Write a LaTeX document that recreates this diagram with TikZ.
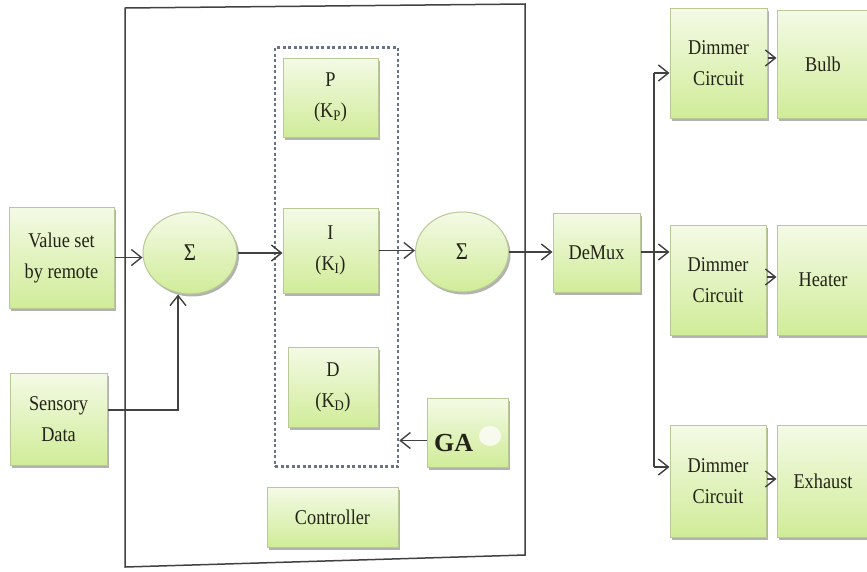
\documentclass[tikz,border=0pt]{standalone}
\usepackage{fontspec}
\setmainfont{Liberation Serif}[FakeStretch=0.87]
\newfontfamily\gafont{Liberation Serif}
\usetikzlibrary{arrows.meta,shadows,shapes.geometric}
\definecolor{boxtop}{RGB}{244,250,230}
\definecolor{boxbot}{RGB}{208,236,152}
\definecolor{boxline}{RGB}{185,200,150}
\definecolor{lnk}{RGB}{65,65,65}
\definecolor{txt}{RGB}{35,35,25}
\definecolor{dotc}{RGB}{105,115,135}
\begin{document}
\begin{tikzpicture}[x=1pt,y=-1pt,
  blk/.style={draw=boxline, line width=1pt, top color=boxtop, bottom color=boxbot,
    drop shadow={shadow xshift=2pt,shadow yshift=-2.5pt,fill=black,opacity=.3},
    align=center, font=\fontsize{21}{31}\selectfont, text=txt, inner sep=0pt},
  sumnode/.style={blk, ellipse, font=\fontsize{24}{28}\selectfont},
  arr/.style={draw=lnk, line width=1.4pt, -{Straight Barb[length=10pt,width=16pt,line width=1.4pt]}},
  ln/.style={draw=lnk, line width=1.4pt},
  dotbox/.style={draw=dotc, line width=2.5pt, dash pattern=on 3pt off 2.5pt, inner sep=0pt}]
\useasboundingbox (0,0) rectangle (867,571);
\fill[white] (0,0) rectangle (867,571);
% outer controller frame
\draw[draw=lnk, line width=1.5pt] (125,8) -- (525,4) -- (525,555) -- (125,567) -- cycle;
% PID dotted box
\node[dotbox, minimum width=123pt, minimum height=419pt] (pid) at (336.5,257) {};
% blocks
\node[blk, minimum width=105pt, minimum height=101pt] (val) at (61.5,257.5) {Value set\\by remote};
\node[blk, minimum width=97pt, minimum height=92pt] (sens) at (58.5,419) {Sensory\\Data};
\node[sumnode, minimum width=94pt, minimum height=82pt] (sum1) at (190,253) {Σ};
\node[blk, minimum width=95pt, minimum height=79pt] (P) at (330.5,97.5) {P\\(K\textsubscript{P})};
\node[blk, minimum width=95pt, minimum height=85pt] (I) at (330.5,250.5) {I\\(K\textsubscript{I})};
\node[blk, minimum width=90pt, minimum height=80pt] (D) at (333,387) {D\\(K\textsubscript{D})};
\node[sumnode, minimum width=93pt, minimum height=80pt] (sum2) at (462,252) {Σ};
\node[blk, minimum width=81pt, minimum height=69pt] (GA) at (467.5,432.5) {};
\fill[white, opacity=.75] (490,436) ellipse (11pt and 10pt);
\node[font=\gafont\bfseries\fontsize{26}{28}\selectfont, text=txt, anchor=west, inner sep=0pt] (galbl) at (434,443) {GA};
\node[blk, minimum width=131pt, minimum height=60pt] (ctrl) at (332.5,517) {Controller};
\node[blk, minimum width=87pt, minimum height=79pt] (demux) at (596.5,252.5) {DeMux};
\node[blk, minimum width=97pt, minimum height=110pt] (dim1) at (718.5,63) {Dimmer\\Circuit};
\node[blk, minimum width=92pt, minimum height=108pt] (bulb) at (823,64) {Bulb};
\node[blk, minimum width=96pt, minimum height=110pt] (dim2) at (718,280) {Dimmer\\Circuit};
\node[blk, minimum width=92pt, minimum height=110pt] (heater) at (823,280) {Heater};
\node[blk, minimum width=96pt, minimum height=112pt] (dim3) at (718,481) {Dimmer\\Circuit};
\node[blk, minimum width=92pt, minimum height=112pt] (exhaust) at (823,481) {Exhaust};
% connectors
\draw[arr] (val.east) -- (val.east -| sum1.west);
\draw[arr] ([yshift=9pt]sens.east) -| ([xshift=-12pt]sum1.south);
\draw[arr] (sum1.east) -- (sum1.east -| I.west);
\draw[arr] (I.east) -- (I.east -| sum2.west);
\draw[arr] (sum2.east) -- (sum2.east -| demux.west);
\draw[arr] ([yshift=-8pt]GA.west) -- ([yshift=-8pt]GA.west -| pid.east);
\coordinate (br) at (654,252);
\coordinate (t1) at (654,73);
\coordinate (t3) at (654,467);
\draw[arr] (demux.east |- br) -- (br -| dim2.west);
\draw[ln] (t1) -- (t3);
\draw[arr] (t1) -- (t1 -| dim1.west);
\draw[arr] (t3) -- (t3 -| dim3.west);
\draw[arr] ([yshift=5pt]dim1.east) -- ([yshift=5pt]dim1.east -| bulb.west);
\draw[arr] ([yshift=3pt]dim2.east) -- ([yshift=3pt]dim2.east -| heater.west);
\draw[arr] ([yshift=2pt]dim3.east) -- ([yshift=2pt]dim3.east -| exhaust.west);
\end{tikzpicture}
\end{document}
